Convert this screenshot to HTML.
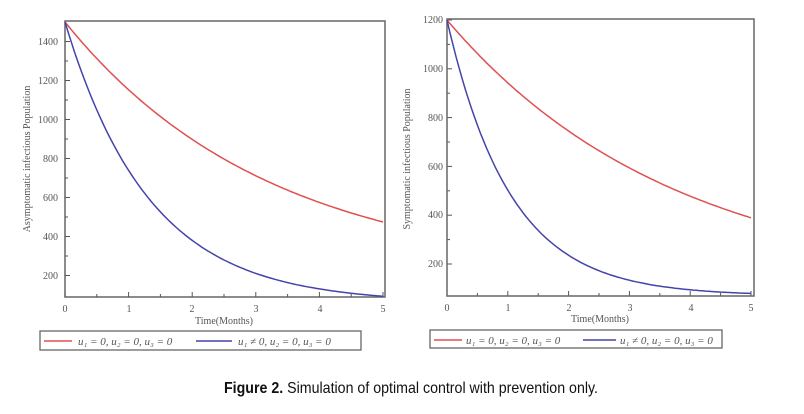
<!DOCTYPE html>
<html><head><meta charset="utf-8"><style>
html,body{margin:0;padding:0;background:#fff;width:804px;height:414px;overflow:hidden}
svg{display:block}
.t{font-family:"Liberation Serif",serif;font-size:10px;fill:#555}
.l{font-family:"Liberation Serif",serif;font-size:11px;fill:#555;font-style:italic}
</style></head><body>
<svg id="s" width="804" height="414" viewBox="0 0 804 414" xmlns="http://www.w3.org/2000/svg">
<rect x="65" y="21" width="320" height="276" fill="none" stroke="#666" stroke-width="1.5"/>
<g class="t" text-anchor="end">
<text x="58" y="45">1400</text><text x="58" y="84">1200</text><text x="58" y="123">1000</text>
<text x="58" y="162">800</text><text x="58" y="201">600</text><text x="58" y="240">400</text><text x="58" y="279">200</text>
</g>
<g class="t" text-anchor="middle">
<text x="65" y="312">0</text><text x="129" y="312">1</text><text x="192" y="312">2</text><text x="256" y="312">3</text><text x="320" y="312">4</text><text x="383" y="312">5</text>
<text x="224" y="324">Time(Months)</text>
</g>
<text class="t" transform="translate(30,159) rotate(-90)" text-anchor="middle">Asymptomatic infectious Population</text>
<g id="tk" stroke="#555" stroke-width="1"></g>
<path id="p1" fill="none" stroke="#e05050" stroke-width="1.5"/>
<path id="p2" fill="none" stroke="#4444aa" stroke-width="1.5"/>
<rect x="40" y="331" width="321" height="19" fill="none" stroke="#666" stroke-width="1.3"/>
<line x1="44" y1="341" x2="72" y2="341" stroke="#e05050" stroke-width="1.5"/>
<text class="l" x="78" y="345">u₁ = 0, u₂ = 0, u₃ = 0</text>
<line x1="196" y1="341" x2="232" y2="341" stroke="#4444aa" stroke-width="1.5"/>
<text class="l" x="238" y="345">u₁ ≠ 0, u₂ = 0, u₃ = 0</text>

<rect x="447" y="19" width="307" height="277" fill="none" stroke="#666" stroke-width="1.5"/>
<g class="t" text-anchor="end">
<text x="443" y="23">1200</text><text x="443" y="72">1000</text><text x="443" y="121">800</text>
<text x="443" y="170">600</text><text x="443" y="218">400</text><text x="443" y="267">200</text>
</g>
<g class="t" text-anchor="middle">
<text x="447" y="311">0</text><text x="508" y="311">1</text><text x="569" y="311">2</text><text x="630" y="311">3</text><text x="691" y="311">4</text><text x="751" y="311">5</text>
<text x="600" y="322">Time(Months)</text>
</g>
<text class="t" transform="translate(410,159) rotate(-90)" text-anchor="middle">Symptomatic infectious Population</text>
<path id="p3" fill="none" stroke="#e05050" stroke-width="1.5"/>
<path id="p4" fill="none" stroke="#4444aa" stroke-width="1.5"/>
<rect x="430" y="330" width="292" height="18" fill="none" stroke="#666" stroke-width="1.3"/>
<line x1="434" y1="340" x2="462" y2="340" stroke="#e05050" stroke-width="1.5"/>
<text class="l" x="466" y="344">u₁ = 0, u₂ = 0, u₃ = 0</text>
<line x1="583" y1="340" x2="616" y2="340" stroke="#4444aa" stroke-width="1.5"/>
<text class="l" x="620" y="344">u₁ ≠ 0, u₂ = 0, u₃ = 0</text>

<text x="224" y="393" textLength="374" lengthAdjust="spacingAndGlyphs" style="font-family:'Liberation Sans Narrow','Liberation Sans',sans-serif;font-size:16px;fill:#111"><tspan font-weight="bold">Figure 2.</tspan> Simulation of optimal control with prevention only.</text>
</svg>
<script>
function mk(id,x0,x1,vTop,yTop,ppv,c,A,k){
 var d="";for(var i=0;i<=100;i++){var t=5*i/100;var v=c+A*Math.exp(-k*t);
 var x=x0+(x1-x0)*t/5;var y=yTop+(vTop-v)*ppv;d+=(i?"L":"M")+x.toFixed(1)+","+y.toFixed(1);}
 document.getElementById(id).setAttribute("d",d);}
mk("p1",65,383,1500,22,0.195,200,1300,0.311);
mk("p2",65,383,1500,22,0.195,60,1440,0.752);
mk("p3",447,751,1200,20,0.244,100,1100,0.267);
mk("p4",447,751,1200,20,0.244,70,1130,0.96);
var g=document.getElementById("tk"),s="";
function ln(a,b,c,d){s+='<line x1="'+a+'" y1="'+b+'" x2="'+c+'" y2="'+d+'"/>';}
for(var i=0;i<=10;i++){var x=65+31.8*i;ln(x,297,x,i%2?294:292);var x2=447+30.4*i;ln(x2,296,x2,i%2?293:291);}
for(var v=200;v<=1400;v+=100){var y=22+(1500-v)*0.195;ln(65,y,v%200?68:70,y);}
for(var v=200;v<=1200;v+=100){var y=20+(1200-v)*0.244;ln(447,y,v%200?450:452,y);}
g.innerHTML=s;
</script>
</body></html>
